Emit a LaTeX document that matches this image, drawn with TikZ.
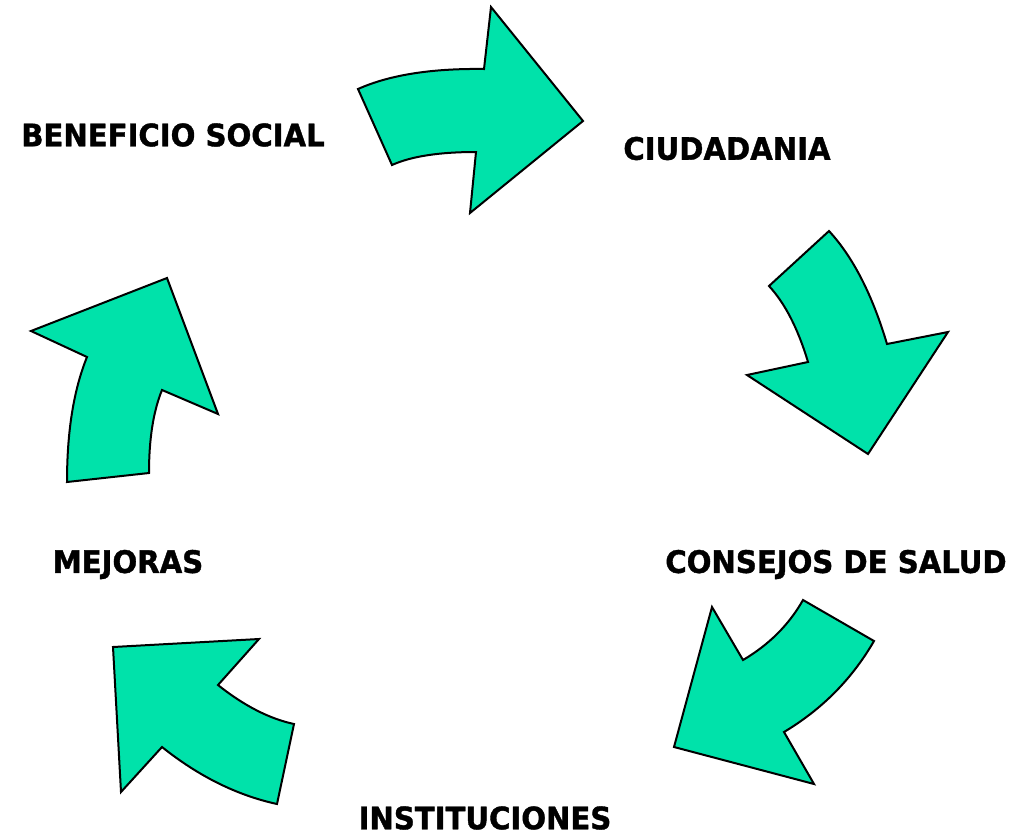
\documentclass[tikz,border=0pt]{standalone}
\usepackage{fontspec}
\setmainfont{DejaVu Sans}
\newfontfamily\rotulo[FakeBold=1.2, FakeStretch=0.94]{DejaVu Sans Bold}
\definecolor{verde}{RGB}{0,226,170}

\begin{document}
\begin{tikzpicture}[x=1pt, y=-1pt,
  flecha/.style={fill=verde, draw=black, line width=2pt, line join=miter},
  etiqueta/.style={font=\rotulo\fontsize{31}{36}\selectfont, inner sep=0pt}]
\useasboundingbox (0,0) rectangle (1014,836);
% flechas
\draw[flecha] (358,89) .. controls (389.3,75) and (431.3,68.3) .. (484,69) -- (491,7) -- (583,121) -- (470,213) -- (476,152) .. controls (439.3,152) and (411.3,156.3) .. (392,165) -- cycle;
\draw[flecha] (829,231) -- (769,286) .. controls (785,303.3) and (798,328.7) .. (808,362) -- (747,375) -- (868,454) -- (948,332) -- (887,344) .. controls (872.3,294.7) and (853,257) .. (829,231) -- cycle;
\draw[flecha] (803,600) -- (874,641) .. controls (852,679) and (822,709.3) .. (784,732) -- (814,784) -- (674,747) -- (712,607) -- (743,660) .. controls (769,644.7) and (789,624.7) .. (803,600) -- cycle;
\draw[flecha] (294,724) -- (277,804) .. controls (237,795.3) and (198.7,776.3) .. (162,747) -- (121,792) -- (113,647) -- (259,639) -- (218,685) .. controls (244,705.7) and (269.3,718.7) .. (294,724) -- cycle;
\draw[flecha] (67,482) .. controls (67,431.3) and (73.7,389.7) .. (87,357) -- (31,331) -- (167,278) -- (218,414) -- (162,390) .. controls (153.3,411.3) and (149,439) .. (149,473) -- cycle;
% textos
\node[etiqueta] (beneficio) at (173,135) {BENEFICIO SOCIAL};
\node[etiqueta] (ciudadania) at (727,148.5) {CIUDADANIA};
\node[etiqueta] (consejos) at (836,564.5) {CONSEJOS DE SALUD};
\node[etiqueta] (instituciones) at (485,818) {INSTITUCIONES};
\node[etiqueta] (mejoras) at (128,564.5) {MEJORAS};
\end{tikzpicture}
\end{document}
